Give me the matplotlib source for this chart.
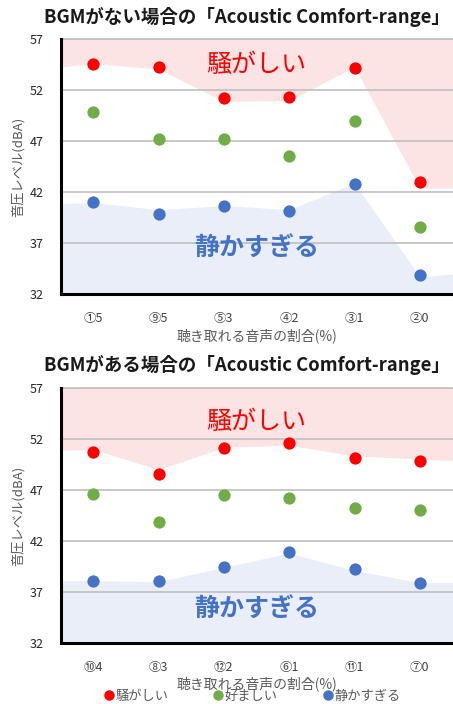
import numpy as np
import matplotlib
matplotlib.use("Agg")
import matplotlib.pyplot as plt
from matplotlib.lines import Line2D

plt.rcParams['font.family'] = ['Noto Sans CJK JP', 'DejaVu Sans']

# =========================
# DATA
# =========================
cats_no_bgm = ["①5", "⑨5", "⑤3", "④2", "③1", "②0"]
noisy_no_bgm = [54.6, 54.3, 51.2, 51.3, 54.2, 43.0]
good_no_bgm = [49.9, 47.2, 47.2, 45.6, 49.0, 38.6]
quiet_no_bgm = [41.0, 39.9, 40.7, 40.2, 42.8, 33.9]
# band edges (left edge, each category, right edge)
noisy_band_no_bgm = [54.3, 54.6, 54.1, 50.9, 51.0, 54.3, 42.4, 42.4]
quiet_band_no_bgm = [40.9, 41.0, 40.3, 40.7, 40.3, 42.9, 33.7, 34.0]

cats_bgm = ["⑩4", "⑧3", "⑫2", "⑥1", "⑪1", "⑦0"]
noisy_bgm = [50.7, 48.6, 51.1, 51.6, 50.1, 49.9]
good_bgm = [46.6, 43.9, 46.5, 46.2, 45.2, 45.0]
quiet_bgm = [38.1, 38.1, 39.4, 40.9, 39.2, 37.9]
noisy_band_bgm = [50.9, 51.0, 49.0, 51.2, 51.4, 50.35, 50.05, 49.9]
quiet_band_bgm = [38.1, 38.1, 38.0, 39.4, 40.8, 39.1, 37.9, 37.9]

titles = ["BGMがない場合の「Acoustic Comfort-range」",
          "BGMがある場合の「Acoustic Comfort-range」"]

RED = "#ff0000"
GREEN = "#70ad47"
BLUE = "#4472c4"
PINK_FILL = "#fde4e4"
BLUE_FILL = "#e9eef8"
GRAY_TXT = "#595959"

YMIN, YMAX = 32, 57


def draw_panel(ax, cats, noisy, good, quiet, noisy_band, quiet_band):
    n = len(cats)
    x = np.arange(n)
    xb = np.concatenate([[-0.5], x, [n - 0.5]])

    ax.fill_between(xb, noisy_band, YMAX, color=PINK_FILL, lw=0, zorder=1)
    ax.fill_between(xb, YMIN, quiet_band, color=BLUE_FILL, lw=0, zorder=1)

    ax.scatter(x, noisy, s=78, color=RED, zorder=4, lw=0)
    ax.scatter(x, good, s=78, color=GREEN, zorder=4, lw=0)
    ax.scatter(x, quiet, s=78, color=BLUE, zorder=4, lw=0)

    ax.set_xlim(-0.5, n - 0.5)
    ax.set_ylim(YMIN, YMAX)
    ax.set_yticks(np.arange(YMIN, YMAX + 1, 5))
    ax.set_xticks(x)
    ax.set_xticklabels(cats)
    ax.yaxis.grid(True, color="#bfbfbf", lw=1.2, zorder=2)
    ax.set_axisbelow(False)
    for line in ax.get_ygridlines():
        line.set_zorder(2)

    ax.spines['right'].set_visible(False)
    ax.spines['top'].set_color("#bfbfbf")
    ax.spines['top'].set_linewidth(1.2)
    ax.spines['left'].set_linewidth(2.2)
    ax.spines['bottom'].set_linewidth(2.2)
    ax.spines['left'].set_zorder(5)
    ax.spines['bottom'].set_zorder(5)

    ax.tick_params(axis='y', length=0, pad=12, labelsize=9, labelcolor="#262626")
    ax.tick_params(axis='x', length=0, pad=13, labelsize=9, labelcolor="#404040")

    ax.set_xlabel("聴き取れる音声の割合(%)", fontsize=10, color=GRAY_TXT, labelpad=2)
    ax.set_ylabel("音圧レベル(dBA)", fontsize=9.5, color=GRAY_TXT, labelpad=4)


fig = plt.figure(figsize=(4.53, 7.04), dpi=100)

ax1 = fig.add_axes([0.1336, 0.582, 0.8653, 0.3622])
draw_panel(ax1, cats_no_bgm, noisy_no_bgm, good_no_bgm, quiet_no_bgm,
           noisy_band_no_bgm, quiet_band_no_bgm)
ax1.text(2.5, 54.5, "騒がしい", color=RED, fontsize=18,
         ha='center', va='center', zorder=6)
ax1.text(2.5, 36.5, "静かすぎる", color=BLUE, fontsize=18, fontweight='bold',
         ha='center', va='center', zorder=6)

ax2 = fig.add_axes([0.1336, 0.0871, 0.8653, 0.3614])
draw_panel(ax2, cats_bgm, noisy_bgm, good_bgm, quiet_bgm,
           noisy_band_bgm, quiet_band_bgm)
ax2.text(2.5, 53.7, "騒がしい", color=RED, fontsize=18,
         ha='center', va='center', zorder=6)
ax2.text(2.5, 35.2, "静かすぎる", color=BLUE, fontsize=18, fontweight='bold',
         ha='center', va='center', zorder=6)

fig.text(0.545, 0.976, titles[0], fontsize=13.3, fontweight='bold',
         ha='center', va='center', color="#1a1a1a")
fig.text(0.545, 0.4815, titles[1], fontsize=13.3, fontweight='bold',
         ha='center', va='center', color="#1a1a1a")

handles = [Line2D([], [], marker='o', ls='none', color=c, markersize=6.5)
           for c in (RED, GREEN, BLUE)]
fig.legend(handles, ["騒がしい", "好ましい", "静かすぎる"], loc='center',
           bbox_to_anchor=(0.555, 0.0105), ncol=3, frameon=False, fontsize=9.5,
           handletextpad=0.0, columnspacing=3.3, handlelength=1.0,
           borderpad=0.1, labelcolor=GRAY_TXT)

fig.savefig("out.png", dpi=100)
